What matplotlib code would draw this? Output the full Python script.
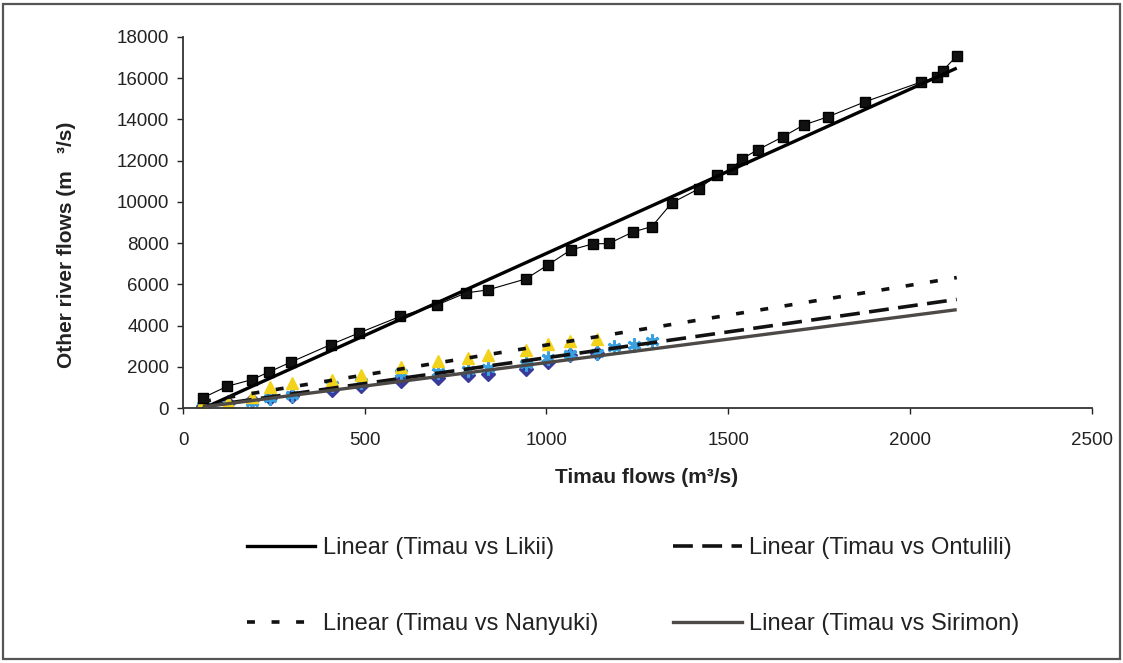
import matplotlib.pyplot as plt
import numpy as np
from matplotlib.lines import Line2D
from matplotlib.patches import Rectangle

plt.rcParams['font.family'] = ['Liberation Sans', 'DejaVu Sans']

# Timau flows paired with Likii flows
likii_x = [55, 121, 190, 237, 297, 407, 484, 597, 699, 778, 839, 943, 1004, 1067,
           1128, 1172, 1238, 1290, 1345, 1419, 1469, 1510, 1537, 1581, 1650, 1708,
           1774, 1876, 2032, 2074, 2090, 2129]
likii_y = [500, 1050, 1380, 1750, 2230, 3080, 3640, 4440, 5000, 5580, 5730, 6260,
           6940, 7670, 7960, 7980, 8540, 8800, 9950, 10630, 11300, 11600, 12080,
           12520, 13150, 13730, 14120, 14850, 15820, 16060, 16350, 17080]

# Timau flows paired with the smaller rivers
nanyuki_x = [55, 124, 190, 239, 300, 410, 490, 600, 701, 784, 839, 943, 1004, 1064, 1139]
nanyuki_y = [300, 300, 530, 1020, 1210, 1360, 1600, 1990, 2280, 2430, 2570, 2810,
             3100, 3250, 3350]

ontulili_x = [55, 124, 190, 239, 300, 410, 490, 600, 701, 784, 839, 943, 1004, 1064,
              1139, 1185, 1240, 1290]
ontulili_y = [100, 150, 300, 490, 630, 1100, 1260, 1700, 1750, 1850, 1950, 2150,
              2450, 2600, 2650, 2950, 3050, 3230]

sirimon_x = [55, 124, 190, 239, 300, 410, 490, 600, 701, 784, 839, 943, 1004, 1064, 1139]
sirimon_y = [100, 250, 390, 490, 580, 870, 1070, 1310, 1460, 1600, 1650, 1890,
             2230, 2570, 2670]

legend_labels = ['Linear (Timau vs Likii)', 'Linear (Timau vs Ontulili)',
                 'Linear (Timau vs Nanyuki)', 'Linear (Timau vs Sirimon)']

fig = plt.figure(figsize=(11.23, 6.63), dpi=100)
ax = fig.add_axes([0.163, 0.3846, 0.809, 0.5597])

txt = '#222222'

# raw observations
ax.plot(likii_x, likii_y, color='black', lw=0.8, marker='s', ms=7.5,
        markerfacecolor='#111111', markeredgecolor='black', zorder=3)
ax.plot(sirimon_x, sirimon_y, ls='none', marker='D', ms=7, color='#3a3a9a', zorder=2)
ax.plot(ontulili_x, ontulili_y, ls='none', marker=(6, 2, 0), ms=10, mew=2.2,
        color='#3aa0e0', zorder=2)
ax.plot(nanyuki_x, nanyuki_y, ls='none', marker='^', ms=9, color='#f2d21a', zorder=2)

# least-squares trend lines, drawn out to the largest Timau flow
x_end = max(likii_x)
trend_style = [
    (likii_x, likii_y, dict(color='black', lw=2.4, ls='-')),
    (ontulili_x, ontulili_y, dict(color='#111111', lw=2.6, ls=(0, (5.5, 2.6)))),
    (nanyuki_x, nanyuki_y, dict(color='#111111', lw=2.6, ls=(0, (2.2, 4.6)))),
    (sirimon_x, sirimon_y, dict(color='#4d4946', lw=2.4, ls='-')),
]
handles = []
for xs, ys, style in trend_style:
    slope, icpt = np.polyfit(xs, ys, 1)
    tx = np.array([min(xs), x_end])
    ax.plot(tx, slope * tx + icpt, zorder=4, solid_capstyle='butt', **style)
    handles.append(Line2D([], [], **style))

ax.set_xlim(0, 2500)
ax.set_ylim(0, 18000)
ax.set_xticks(np.arange(0, 2501, 500))
ax.set_yticks(np.arange(0, 18001, 2000))
ax.tick_params(labelsize=13.5, colors=txt, length=4, width=1, pad=6)
ax.tick_params(axis='x', pad=13)
for side in ['top', 'right']:
    ax.spines[side].set_visible(False)
for side in ['left', 'bottom']:
    ax.spines[side].set_color('#333333')
    ax.spines[side].set_linewidth(1.3)

ax.set_xlabel('Timau flows (m\u00b3/s)', fontsize=15, fontweight='bold', color=txt)
ax.xaxis.set_label_coords(0.51, -0.162)
ax.set_ylabel('Other river flows (m   \u00b3/s)', fontsize=15, fontweight='bold',
              color=txt)
ax.yaxis.set_label_coords(-0.118, 0.44)

# legend fills column by column, so order the entries to read across rows
order = [0, 2, 1, 3]
fig.legend([handles[i] for i in order], [legend_labels[i] for i in order],
           ncol=2, loc='upper left', bbox_to_anchor=(0.201, 0.222),
           frameon=False, fontsize=17, handlelength=2.9, handletextpad=0.3,
           labelspacing=2.3, columnspacing=3.2, labelcolor=txt)

# chart area border
fig.patches.append(Rectangle((0.003, 0.006), 0.994, 0.988, transform=fig.transFigure,
                             fill=False, edgecolor='#555555', lw=1.6))

fig.savefig('out.png', dpi=100)
